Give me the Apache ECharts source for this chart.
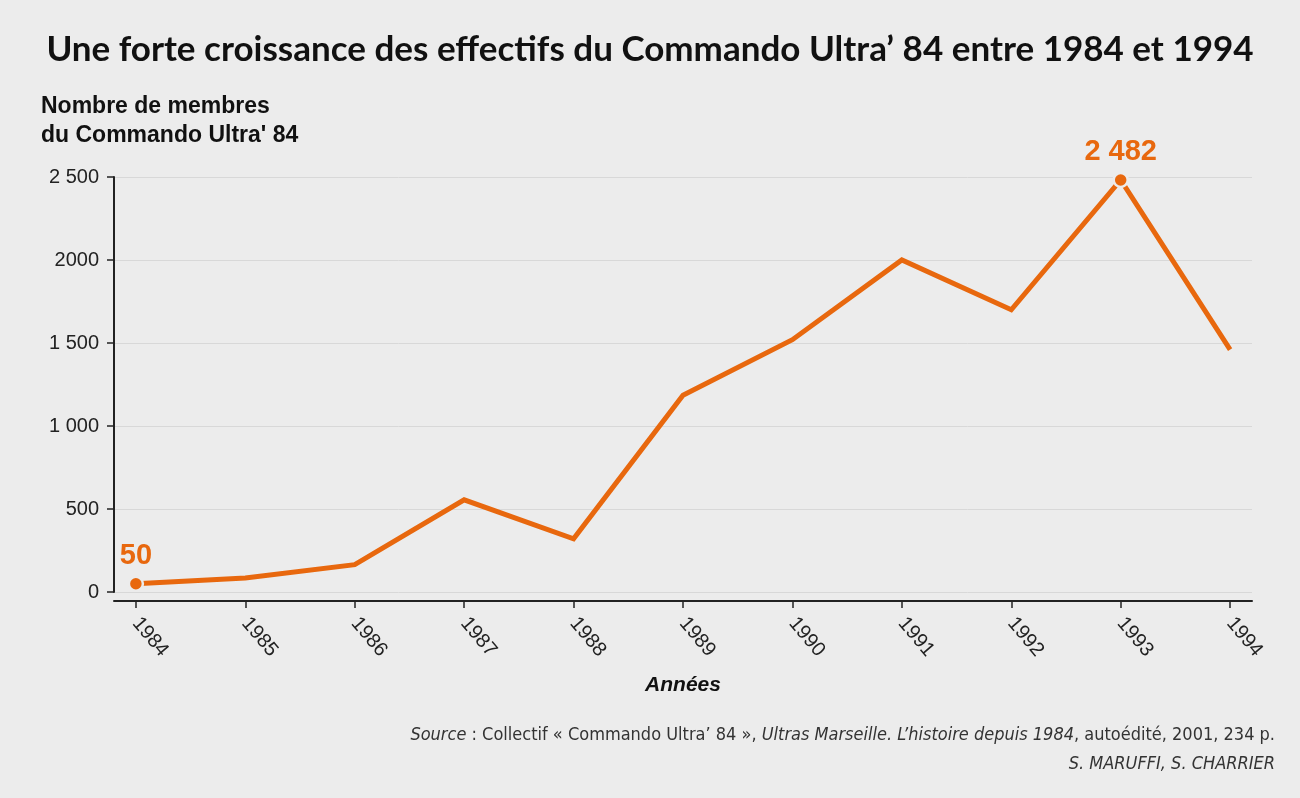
<!DOCTYPE html>
<html>
<head>
<meta charset="utf-8">
<script src="https://cdn.jsdelivr.net/npm/echarts@6/dist/echarts.min.js"></script>
<style>
html,body{margin:0;padding:0;background:#ececec;}
#chart{width:1300px;height:798px;}
</style>
</head>
<body>
<div id="chart"></div>
<script>
// données
var years = [1984, 1985, 1986, 1987, 1988, 1989, 1990, 1991, 1992, 1993, 1994];
var members = [50, 85, 165, 555, 320, 1185, 1520, 2000, 1700, 2482, 1460];
var highlightYears = [1984, 1993];
var yTickValues = [0, 500, 1000, 1500, 2000, 2500];
var yTickLabels = ['0', '500', '1 000', '1 500', '2000', '2 500'];

var orange = '#e8680e';
var bg = '#ececec';
var condensed = '"DejaVu Sans Condensed", "Liberation Sans"';

var seriesData = [];
for (var i = 0; i < years.length; i++) {
  var item = { value: [years[i], members[i]] };
  if (highlightYears.indexOf(years[i]) >= 0) {
    item.symbolSize = 14;
    item.label = { show: true };
  }
  seriesData.push(item);
}

var myChart = echarts.init(document.getElementById('chart'));
var option = {
  backgroundColor: bg,
  animation: false,
  title: {
    text: 'Une forte croissance des effectifs du Commando Ultra’ 84 entre 1984 et 1994',
    left: 'center',
    top: 27,
    textStyle: { fontFamily: 'Lato', fontWeight: 'bold', fontSize: 35, color: '#111' }
  },
  grid: { left: 114, right: 48, top: 177, bottom: 206 },
  xAxis: {
    type: 'value',
    min: 1983.8,
    max: 1994.2,
    offset: 9,
    name: 'Années',
    nameLocation: 'middle',
    nameGap: 74,
    nameTextStyle: { fontFamily: 'Liberation Sans', fontWeight: 'bold', fontStyle: 'italic', fontSize: 21, color: '#111' },
    axisLine: { onZero: false, lineStyle: { color: '#222', width: 2 } },
    axisTick: { customValues: years, length: 7, lineStyle: { color: '#222', width: 1.5 } },
    axisLabel: {
      customValues: years,
      rotate: -50,
      margin: 19,
      fontFamily: 'Liberation Sans',
      fontSize: 20,
      color: '#222',
      formatter: function (v) { return String(v); }
    },
    splitLine: { show: false }
  },
  yAxis: {
    type: 'value',
    min: 0,
    max: 2500,
    interval: 500,
    axisLine: { show: true, lineStyle: { color: '#222', width: 2 } },
    axisTick: { show: true, length: 7, lineStyle: { color: '#222', width: 1.5 } },
    axisLabel: {
      margin: 15,
      fontFamily: 'Liberation Sans',
      fontSize: 20,
      color: '#222',
      formatter: function (v) { return yTickLabels[yTickValues.indexOf(v)]; }
    },
    splitLine: { lineStyle: { color: '#d8d8d8', width: 1 } }
  },
  series: [{
    type: 'line',
    data: seriesData,
    symbol: 'circle',
    symbolSize: 0,
    showAllSymbol: true,
    lineStyle: { color: orange, width: 5, join: 'miter' },
    itemStyle: { color: orange, borderColor: bg, borderWidth: 2.5 },
    label: {
      show: false,
      position: 'top',
      distance: 5,
      fontFamily: 'Liberation Sans',
      fontWeight: 'bold',
      fontSize: 29,
      color: orange,
      formatter: function (p) {
        return String(p.value[1]).replace(/\B(?=(\d{3})+(?!\d))/g, ' ');
      }
    },
    emphasis: { disabled: true }
  }],
  graphic: [
    {
      type: 'text',
      left: 41,
      top: 92,
      style: {
        text: 'Nombre de membres\ndu Commando Ultra\' 84',
        fontFamily: 'Liberation Sans',
        fontWeight: 'bold',
        fontSize: 23,
        lineHeight: 29,
        fill: '#111'
      }
    },
    {
      type: 'text',
      right: 25,
      top: 726,
      style: {
        text: '{i|Source} : Collectif « Commando Ultra’ 84 », {i|Ultras Marseille. L’histoire depuis 1984}, autoédité, 2001, 234 p.',
        fontFamily: condensed,
        fontSize: 18,
        fill: '#333',
        rich: { i: { fontFamily: condensed, fontStyle: 'italic', fontSize: 18, fill: '#333' } }
      }
    },
    {
      type: 'text',
      right: 25,
      top: 755,
      style: {
        text: 'S. MARUFFI, S. CHARRIER',
        fontFamily: condensed,
        fontStyle: 'italic',
        fontSize: 18,
        fill: '#333'
      }
    }
  ]
};
myChart.setOption(option);
</script>
</body>
</html>
